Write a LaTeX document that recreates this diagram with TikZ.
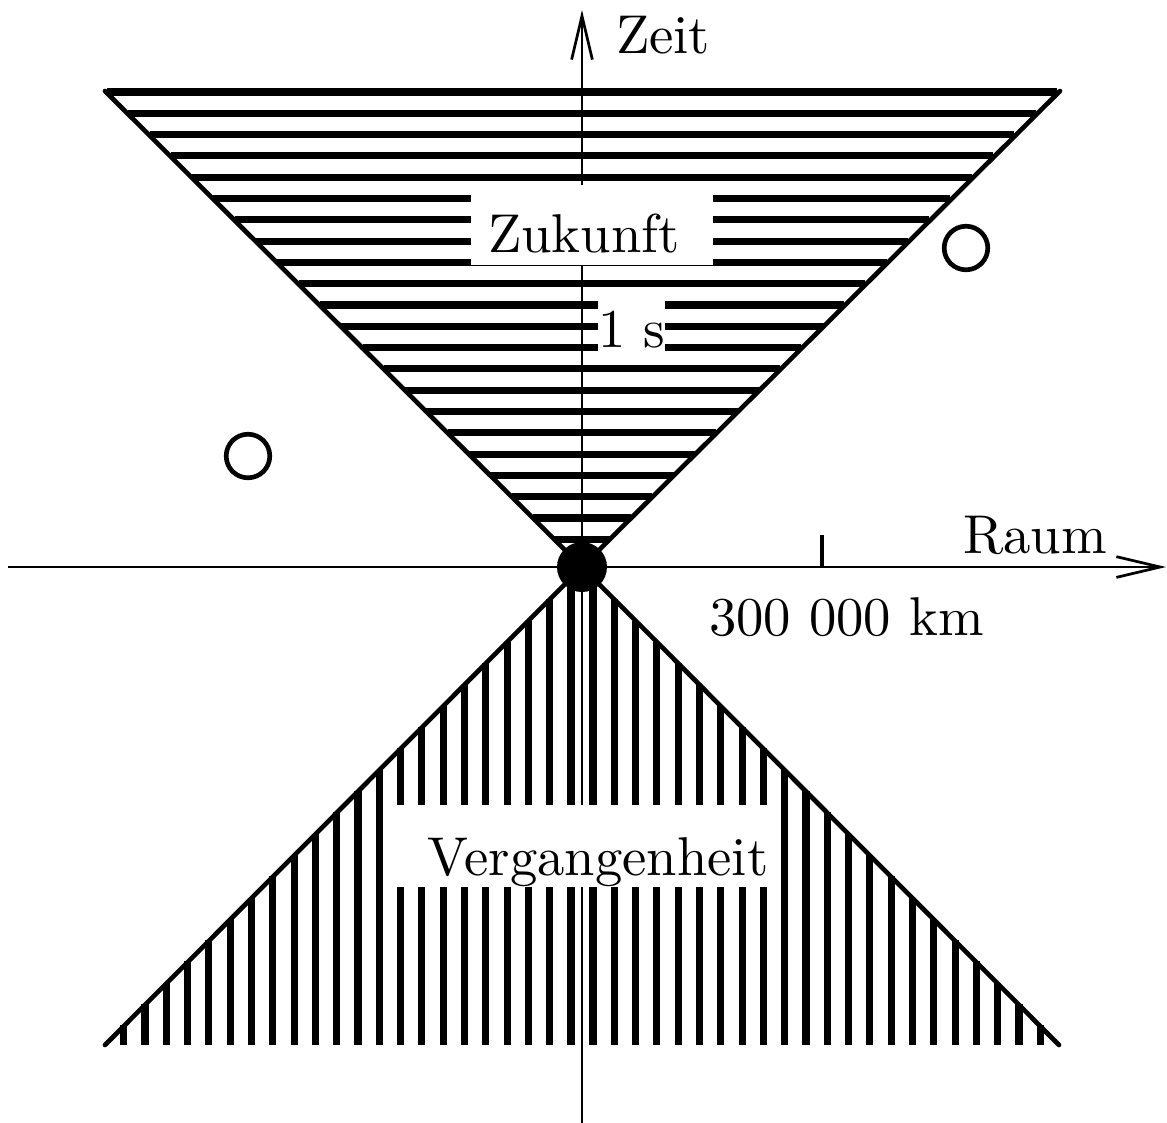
\documentclass[tikz,border=0pt]{standalone}
\usepackage{tikz}
\usetikzlibrary{arrows.meta}

\begin{document}
\begin{tikzpicture}[x=0.643cm,y=0.643cm,
  schraffur/.style={line width=1.3pt},
  kante/.style={line width=0.85pt,line cap=round},
  achse/.style={line width=0.5pt,-{Straight Barb[length=8pt,width=3.8pt]}},
  strich/.style={line width=0.6pt},
  etikett/.style={inner sep=0pt},
  ausschnitt/.style={fill=white,inner ysep=0pt}]
\useasboundingbox (-5.82,-5.55) rectangle (5.85,5.67);
\coordinate (O) at (0,0);
\coordinate (ol) at (-4.77,4.76);
\coordinate (or) at (4.78,4.76);
\coordinate (ul) at (-4.77,-4.78);
\coordinate (ur) at (4.77,-4.78);
% Zukunft
\foreach \k [evaluate=\k as \y using 4.75-0.213*\k] in {0,...,22}
  \draw[schraffur] (-\y,\y) -- (\y,\y);
% Vergangenheit
\foreach \k [evaluate=\k as \x using 0.11+0.213*\k] in {0,...,21}{
  \draw[schraffur] (\x,-\x) -- (\x,-4.78);
  \draw[schraffur] (-\x,-\x) -- (-\x,-4.78);
}
\draw[kante] (ol) -- (O) -- (or);
\draw[kante] (ul) -- (O) -- (ur);
% Achsen
\coordinate (xa) at (-5.74,0);
\coordinate (xe) at (5.84,0);
\coordinate (ya) at (0,-5.6);
\coordinate (ye) at (0,5.57);
\draw[achse] (xa) -- (xe);
\draw[achse] (ya) -- (ye);
\node[etikett,anchor=base west] (zeit) at (0.33,5.14) {Zeit};
\node[etikett,anchor=base west] (raum) at (3.80,0.14) {Raum};
\node[etikett,anchor=base west] (km) at (1.26,-0.68) {300 000 km};
% Beschriftungen
\node[ausschnitt,anchor=base west,inner xsep=3.1pt,text width=38.1pt,align=left,
  text height=12.3pt,text depth=2.4pt] (zukunft) at (-1.12,3.15) {Zukunft};
\node[ausschnitt,anchor=base west,inner xsep=0pt,
  text height=9.9pt,text depth=1.8pt] (sek) at (0.15,2.20) {1 s};
\node[ausschnitt,anchor=base west,inner xsep=1.5pt,text width=67.5pt,align=right,
  text height=12.8pt,text depth=2.2pt] (vergangenheit) at (-1.92,-3.08) {Vergangenheit};
\draw[line width=1pt] (0,2.40) -- ++(-0.15,0);
\draw[strich] (2.40,0) -- ++(0,0.32);
\fill (O) circle (0.25);
\draw[kante] (3.84,3.19) circle (0.218);
\draw[kante] (-3.34,1.11) circle (0.218);
\end{tikzpicture}
\end{document}
